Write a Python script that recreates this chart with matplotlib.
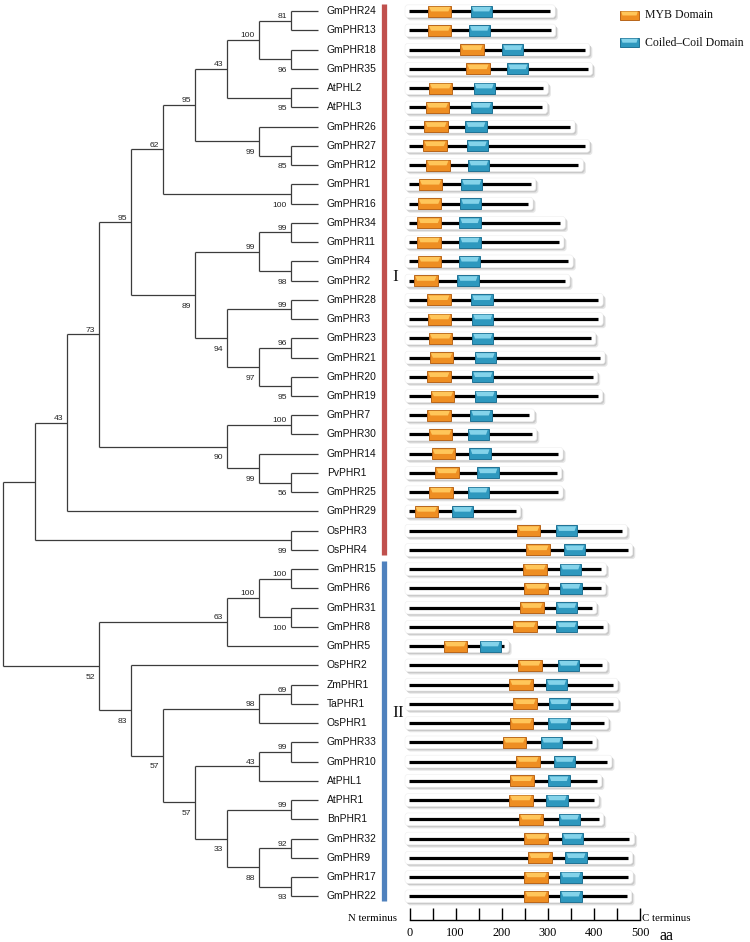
import matplotlib
matplotlib.use('Agg')
import matplotlib.pyplot as plt
from matplotlib.patches import FancyBboxPatch, Rectangle, Polygon
from matplotlib.ticker import MultipleLocator

# ---------------- data ----------------
TREE = ("((((((((((GmPHR24,GmPHR13)81,(GmPHR18,GmPHR35)96)100,(AtPHL2,AtPHL3)95)43,"
        "(GmPHR26,(GmPHR27,GmPHR12)85)99)95,(GmPHR1,GmPHR16)100)62,"
        "(((GmPHR34,GmPHR11)99,(GmPHR4,GmPHR2)98)99,((GmPHR28,GmPHR3)99,"
        "((GmPHR23,GmPHR21)96,(GmPHR20,GmPHR19)95)97)94)89)95,"
        "((GmPHR7,GmPHR30)100,(GmPHR14,(PvPHR1,GmPHR25)56)99)90)73,GmPHR29)43,"
        "(OsPHR3,OsPHR4)99),"
        "((((GmPHR15,GmPHR6)100,(GmPHR31,GmPHR8)100)100,GmPHR5)63,"
        "(OsPHR2,(((ZmPHR1,TaPHR1)69,OsPHR1)98,(((GmPHR33,GmPHR10)99,AtPHL1)43,"
        "((AtPHR1,BnPHR1)99,((GmPHR32,GmPHR9)92,(GmPHR17,GmPHR22)93)88)33)57)57)83)52);")

proteins = ["GmPHR24", "GmPHR13", "GmPHR18", "GmPHR35", "AtPHL2", "AtPHL3", "GmPHR26",
            "GmPHR27", "GmPHR12", "GmPHR1", "GmPHR16", "GmPHR34", "GmPHR11", "GmPHR4",
            "GmPHR2", "GmPHR28", "GmPHR3", "GmPHR23", "GmPHR21", "GmPHR20", "GmPHR19",
            "GmPHR7", "GmPHR30", "GmPHR14", "PvPHR1", "GmPHR25", "GmPHR29", "OsPHR3",
            "OsPHR4", "GmPHR15", "GmPHR6", "GmPHR31", "GmPHR8", "GmPHR5", "OsPHR2",
            "ZmPHR1", "TaPHR1", "OsPHR1", "GmPHR33", "GmPHR10", "AtPHL1", "AtPHR1",
            "BnPHR1", "GmPHR32", "GmPHR9", "GmPHR17", "GmPHR22"]

lengths = [305, 306, 380, 386, 290, 288, 348, 380, 366, 263, 257, 327, 324, 344, 337,
           409, 409, 393, 413, 397, 408, 260, 265, 322, 319, 322, 230, 461, 473, 416,
           415, 395, 419, 205, 418, 441, 442, 421, 395, 428, 406, 400, 410, 477, 473,
           474, 471]

myb_start = [40, 40, 110, 123, 42, 35, 32, 30, 36, 20, 18, 17, 17, 18, 10, 38, 40, 42,
             44, 38, 46, 39, 42, 48, 56, 43, 11, 233, 253, 247, 249, 240, 225, 74, 236,
             216, 225, 217, 202, 231, 218, 216, 238, 249, 257, 249, 249]
myb_end = [s + 51 for s in myb_start]

cc_start = [133, 129, 201, 212, 139, 133, 121, 124, 127, 112, 110, 108, 108, 107, 104,
            134, 136, 136, 141, 136, 141, 132, 126, 130, 147, 126, 92, 318, 335, 326,
            327, 318, 318, 152, 322, 296, 302, 301, 285, 313, 301, 297, 324, 331, 338,
            327, 327]
cc_end = [s + 46 for s in cc_start]

groups = ["I", "II"]
group_sizes = [29, 18]
group_colors = ["#C0504D", "#4F81BD"]

scale_ticks = [0, 100, 200, 300, 400, 500]
legend_labels = ["MYB Domain", "Coiled\u2013Coil Domain"]

# ---------------- layout constants (pixels) ----------------
W, H = 750, 942
H0_PX, STEP_PX = 323.0, 32.03        # tree: x pixel of height 0 and pixel per level
Y0_PX, ROW_PX = 11.2, 19.24          # row 0 centre and row spacing
AA0_PX, PX_AA = 409.5, 0.4612        # domain panel: pixel of aa 0 and px per aa

SANS = ["Liberation Sans", "DejaVu Sans"]
SERIF = ["Liberation Serif", "DejaVu Serif"]

ORANGE = dict(base="#EE8E22", light="#FFC65A", edge="#B8651A")
BLUE = dict(base="#2E98BE", light="#84D3EA", edge="#1F7294")


def parse_newick(s):
    pos = 0

    def read_label():
        nonlocal pos
        st = pos
        while pos < len(s) and s[pos] not in ",();":
            pos += 1
        return s[st:pos]

    def node():
        nonlocal pos
        if s[pos] == "(":
            pos += 1
            ch = [node()]
            while s[pos] == ",":
                pos += 1
                ch.append(node())
            pos += 1  # ')'
            return {"children": ch, "support": read_label()}
        return {"children": [], "name": read_label()}

    return node()


root = parse_newick(TREE)
leaf_order = []


def layout(n):
    if not n["children"]:
        n["y"] = len(leaf_order)
        leaf_order.append(n["name"])
        n["h"] = 0
        return
    for c in n["children"]:
        layout(c)
    n["h"] = 1 + max(c["h"] for c in n["children"])
    n["y"] = (n["children"][0]["y"] + n["children"][-1]["y"]) / 2.0


layout(root)
assert leaf_order == proteins

fig = plt.figure(figsize=(W / 100, H / 100), dpi=100)

ylim = ((H - Y0_PX) / ROW_PX, -Y0_PX / ROW_PX)

# ---------------- tree ----------------
ax_t = fig.add_axes([0, 0, 1, 1])
ax_t.set_xlim(H0_PX / STEP_PX, (H0_PX - W) / STEP_PX)
ax_t.set_ylim(*ylim)
ax_t.axis("off")
ax_t.patch.set_alpha(0)

LEAF_END = 4.7 / STEP_PX
LABEL_X = -3.7 / STEP_PX
TREE_COL = "#3C3C3C"


def draw(n, is_first=None):
    if not n["children"]:
        return
    ys = [c["y"] for c in n["children"]]
    ax_t.plot([n["h"], n["h"]], [min(ys), max(ys)], color=TREE_COL, lw=0.9,
              solid_capstyle="butt")
    for i, c in enumerate(n["children"]):
        xend = c["h"] if c["children"] else LEAF_END
        ax_t.plot([n["h"], xend], [c["y"], c["y"]], color=TREE_COL, lw=0.9,
                  solid_capstyle="butt")
        if not c["children"]:
            ax_t.text(LABEL_X, c["y"], c["name"], ha="left", va="center",
                      fontsize=7.4, family=SANS, color="#111111")
        draw(c, i == 0)
    if n.get("support") and is_first is not None:
        dy = -2.6 / ROW_PX if is_first else 12.6 / ROW_PX
        ax_t.text(n["h"] + 4.0 / STEP_PX, n["y"] + dy, n["support"], ha="right",
                  va="baseline", fontsize=6.1, family=SANS, color="#222222")


draw(root)

# ---------------- domains ----------------
ax_d = fig.add_axes([0, 0, 1, 1])
ax_d.set_xlim(-AA0_PX / PX_AA, (W - AA0_PX) / PX_AA)
ax_d.set_ylim(*ylim)
ax_d.axis("off")
ax_d.patch.set_alpha(0)

px_x = 1 / PX_AA
px_y = 1 / ROW_PX
BOX_H = 12.7 * px_y
DOM_H = 11.0 * px_y
RND = 3.0 * px_x
ASPECT = (3.0 * px_y) / RND


def domain(x0, x1, yc, h, col, z=6):
    top = yc - h / 2
    ax_d.add_patch(Rectangle((x0, top), x1 - x0, h, facecolor=col["base"],
                             edgecolor=col["edge"], lw=0.7, zorder=z))
    ins = (x1 - x0) * 0.13
    poly = [(x0 + 1.2 * px_x, top + h * 0.1), (x1 - 1.2 * px_x, top + h * 0.1),
            (x1 - ins, yc + h * 0.02), (x0 + ins, yc + h * 0.02)]
    ax_d.add_patch(Polygon(poly, closed=True, facecolor=col["light"],
                           edgecolor="none", zorder=z + 0.5))


for i, name in enumerate(proteins):
    y = i
    L = lengths[i]
    bx0 = -4.5 * px_x
    bx1 = L + 5.0 * px_x
    for k, (c, dxp, dyp) in enumerate([("#E6E6E6", 2.6, 2.8), ("#C9C9C9", 1.4, 1.6)]):
        ax_d.add_patch(FancyBboxPatch((bx0 + dxp * px_x, y - BOX_H / 2 + dyp * px_y),
                                      bx1 - bx0, BOX_H,
                                      boxstyle=f"round,pad=0,rounding_size={RND}",
                                      mutation_aspect=ASPECT, facecolor=c,
                                      edgecolor="none", zorder=1 + k * 0.1))
    ax_d.add_patch(FancyBboxPatch((bx0, y - BOX_H / 2), bx1 - bx0, BOX_H,
                                  boxstyle=f"round,pad=0,rounding_size={RND}",
                                  mutation_aspect=ASPECT, facecolor="white",
                                  edgecolor="#EEEEEE", lw=0.4, zorder=2))
    ax_d.plot([0, L], [y, y], color="black", lw=2.3, solid_capstyle="butt", zorder=3)
    domain(myb_start[i], myb_end[i], y, DOM_H, ORANGE)
    domain(cc_start[i], cc_end[i], y, DOM_H, BLUE)

# group bars and labels
bar_x = (384 - AA0_PX) / PX_AA
label_rows = [13.8, 36.5]
label_x = [(395 - AA0_PX) / PX_AA, (398.5 - AA0_PX) / PX_AA]
start = 0
for g, size, col, ly, lx in zip(groups, group_sizes, group_colors, label_rows, label_x):
    ax_d.plot([bar_x, bar_x], [start - 0.4, start + size - 1 + 0.25], color=col,
              lw=3.8, solid_capstyle="butt", zorder=2)
    ax_d.text(lx, ly, g, ha="center", va="center", fontsize=12.5, family=SERIF,
              color="#111111")
    start += size

# legend
leg_x0 = (620.0 - AA0_PX) / PX_AA
leg_w = 19.0 * px_x
leg_rows = [(15.3 - Y0_PX) / ROW_PX, (42.5 - Y0_PX) / ROW_PX]
for lab, col, ly in zip(legend_labels, [ORANGE, BLUE], leg_rows):
    domain(leg_x0, leg_x0 + leg_w, ly, 9.5 * px_y, col)
    ax_d.text((645.0 - AA0_PX) / PX_AA, ly, lab, ha="left", va="center",
              fontsize=8.5, family=SERIF, color="#111111")

# ---------------- scale bar ----------------
ax_s = fig.add_axes([AA0_PX / W, (H - 920) / H, 500 * PX_AA / W, 12 / H])
ax_s.set_xlim(0, 500)
ax_s.set_ylim(0, 1)
ax_s.patch.set_alpha(0)
for sp in ["top", "left", "right"]:
    ax_s.spines[sp].set_visible(False)
ax_s.spines["bottom"].set_linewidth(1.0)
ax_s.set_yticks([])
ax_s.set_xticks(scale_ticks)
ax_s.set_xticklabels([str(t) for t in scale_ticks], family=SERIF, fontsize=8.8)
ax_s.xaxis.set_minor_locator(MultipleLocator(50))
ax_s.tick_params(axis="x", which="both", direction="in", length=8.8, width=1.0,
                 pad=5.0, color="black")
ax_s.text(-13.0 / PX_AA, 0.15, "N terminus", ha="right", va="center", fontsize=7.8,
          family=SERIF)
ax_s.text(504, 0.15, "C terminus", ha="left", va="center", fontsize=7.8,
          family=SERIF)
ax_s.text(543, -1.3, "aa", ha="left", va="center", fontsize=11.5, family=SERIF)

fig.savefig("out.png", dpi=100)
